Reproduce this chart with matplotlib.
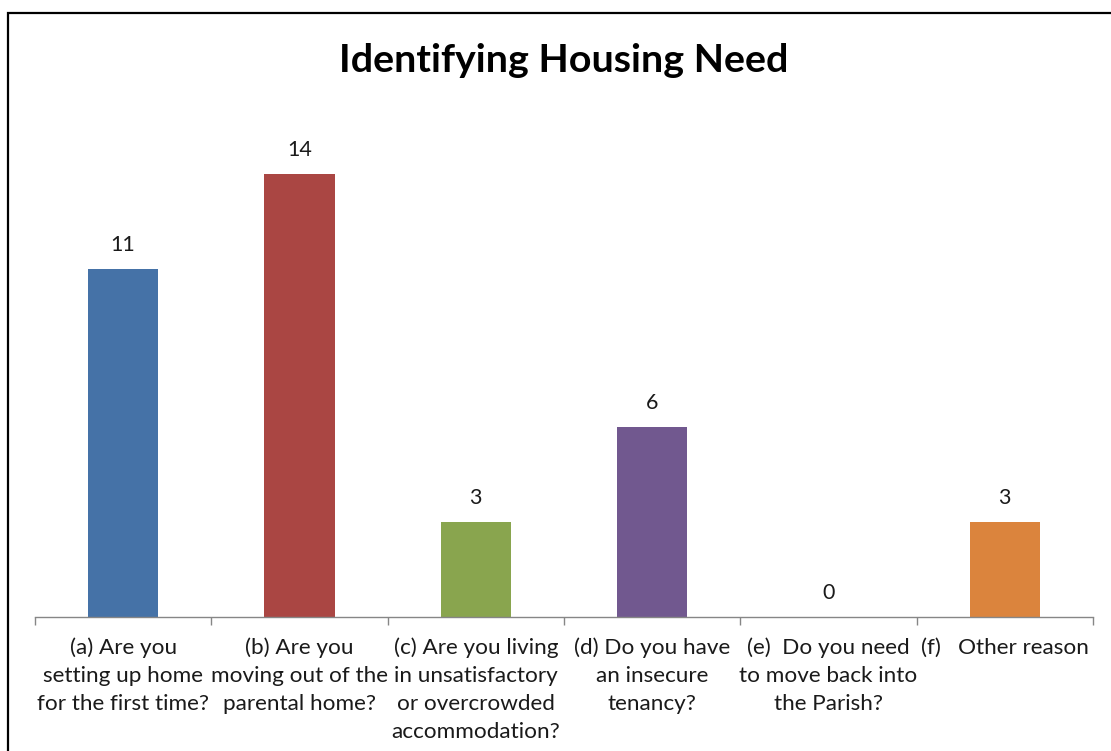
import matplotlib
matplotlib.use("Agg")
import matplotlib.pyplot as plt
from matplotlib.patches import Rectangle

plt.rcParams['font.family'] = ['Lato', 'DejaVu Sans']

title = "Identifying Housing Need"
categories = [
    "(a) Are you\nsetting up home\nfor the first time?",
    "(b) Are you\nmoving out of the\nparental home?",
    "(c) Are you living\nin unsatisfactory\nor overcrowded\naccommodation?",
    "(d) Do you have\nan insecure\ntenancy?",
    "(e)  Do you need\nto move back into\nthe Parish?",
    "(f)   Other reason",
]
values = [11, 14, 3, 6, 0, 3]
colors = ["#4572A7", "#AA4643", "#89A54E", "#71588F", "#4198AF", "#DB843D"]

W, H = 1111, 751
fig = plt.figure(figsize=(W / 100, H / 100), dpi=100)
fig.patch.set_facecolor("white")

# figure border
fig.patches.append(Rectangle((7.5, -20), 1200, H - 13 + 20, transform=None,
                             fill=False, edgecolor="black", linewidth=1.6))

x0, x1 = 35, 1093
ybase = 617
ppu = 443 / 14.0
ymax = 16
ytop = ybase - ymax * ppu
ax = fig.add_axes([x0 / W, 1 - ybase / H, (x1 - x0) / W, (ybase - ytop) / H])

xs = list(range(len(values)))
bars = ax.bar(xs, values, width=0.4, color=colors)
ax.bar_label(bars, labels=[str(v) for v in values], padding=10, fontsize=15.5, color="#1a1a1a")

ax.set_xlim(-0.5, len(values) - 0.5)
ax.set_ylim(0, ymax)
ax.set_yticks([])
for s in ["left", "right", "top"]:
    ax.spines[s].set_visible(False)
ax.spines["bottom"].set_color("#868686")
ax.spines["bottom"].set_linewidth(1.0)

ax.set_xticks([i - 0.5 for i in range(len(values) + 1)], minor=False)
ax.set_xticklabels([""] * (len(values) + 1))
ax.tick_params(axis="x", which="major", length=6, color="#868686", width=1.0)
ax.set_xticks(xs, minor=True)
ax.set_xticklabels(categories, minor=True, fontsize=16.2, color="#1a1a1a", linespacing=1.5)
ax.tick_params(axis="x", which="minor", length=0, pad=15)
for lbl in ax.get_xticklabels(minor=True):
    lbl.set_verticalalignment("top")
    lbl.set_horizontalalignment("center")

fig.text(564 / W, 1 - 60 / H, title, fontsize=28.4, fontweight="bold",
         ha="center", va="center", color="black")

fig.savefig("out.png", dpi=100)
